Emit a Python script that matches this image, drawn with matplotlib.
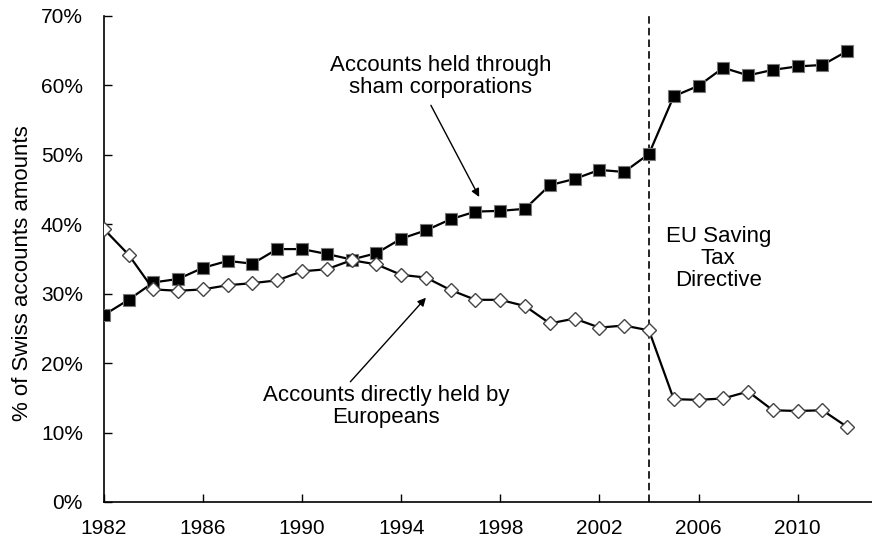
import matplotlib
matplotlib.use('Agg')
import matplotlib.pyplot as plt
from matplotlib.ticker import FuncFormatter

years = list(range(1982, 2013))

sham_corporations = [26.9, 29.1, 31.6, 32.1, 33.7, 34.7, 34.3, 36.4, 36.4, 35.7,
                     34.9, 35.8, 37.9, 39.1, 40.7, 41.8, 41.9, 42.2, 45.6, 46.5,
                     47.8, 47.5, 50.1, 58.4, 59.9, 62.5, 61.4, 62.2, 62.7, 62.9,
                     64.9]

direct_europeans = [39.3, 35.6, 30.6, 30.4, 30.6, 31.2, 31.5, 31.9, 33.2, 33.5,
                    34.8, 34.2, 32.7, 32.3, 30.5, 29.1, 29.1, 28.2, 25.7, 26.4,
                    25.1, 25.4, 24.7, 14.8, 14.7, 14.9, 15.9, 13.2, 13.1, 13.2,
                    10.8]

x_ticks = [1982, 1986, 1990, 1994, 1998, 2002, 2006, 2010]
y_ticks = [0, 10, 20, 30, 40, 50, 60, 70]
directive_year = 2004

plt.rcParams['font.family'] = ['Liberation Sans', 'DejaVu Sans']

fig = plt.figure(figsize=(8.72, 5.4), dpi=100)
ax = fig.add_axes([0.119, 0.0704, 0.881, 0.9006])

ax.plot(years, sham_corporations, color='black', linewidth=1.6, marker='s',
        markersize=8.5, markerfacecolor='black', markeredgecolor='#777777',
        markeredgewidth=0.8, zorder=3)
ax.plot(years, direct_europeans, color='black', linewidth=1.6, marker='D',
        markersize=7, markerfacecolor='white', markeredgecolor='#444444',
        markeredgewidth=1.0, zorder=3)

ax.axvline(directive_year, color='black', linewidth=1.2, linestyle=(0, (4.5, 2.5)), zorder=2)

ax.set_xlim(1982, 2013)
ax.set_ylim(0, 70)
ax.set_xticks(x_ticks)
ax.set_yticks(y_ticks)
ax.yaxis.set_major_formatter(FuncFormatter(lambda v, p: f'{v:.0f}%'))
ax.tick_params(direction='in', length=6, width=1, labelsize=15)
ax.tick_params(axis='y', pad=15)
ax.tick_params(axis='x', pad=12)
for side in ['top', 'right']:
    ax.spines[side].set_visible(False)
for side in ['left', 'bottom']:
    ax.spines[side].set_linewidth(1.2)

ax.set_ylabel('% of Swiss accounts amounts', fontsize=16)
ax.yaxis.set_label_coords(-0.092, 0.47)

arrow = dict(arrowstyle='-|>', color='black', lw=1.0, shrinkA=0, shrinkB=0,
             mutation_scale=12)

# labels and pointers
ax.text(1995.6, 61.2, 'Accounts held through\nsham corporations', ha='center',
        va='center', fontsize=16, linespacing=1.07)
ax.annotate('', xy=(1997.15, 43.9), xytext=(1995.2, 57.1), arrowprops=arrow)

ax.text(1993.4, 13.7, 'Accounts directly held by\nEuropeans', ha='center',
        va='center', fontsize=16, linespacing=1.07)
ax.annotate('', xy=(1995.0, 29.4), xytext=(1991.95, 17.3), arrowprops=arrow)

ax.text(2006.8, 35.0, 'EU Saving\nTax\nDirective', ha='center', va='center',
        fontsize=16, linespacing=1.07)

fig.savefig('out.png', dpi=100)
